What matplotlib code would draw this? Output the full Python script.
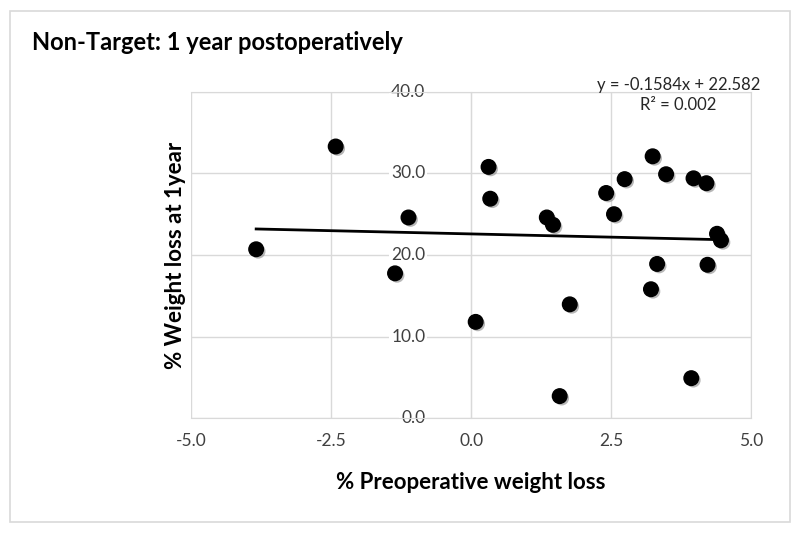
import numpy as np
import matplotlib
matplotlib.use("Agg")
import matplotlib.pyplot as plt
from matplotlib.patches import Rectangle
from matplotlib.transforms import offset_copy
import matplotlib.patheffects as pe

plt.rcParams["font.family"] = ["Lato", "DejaVu Sans"]

# % preoperative weight loss vs % weight loss at 1 year
preop_loss = [-3.84, -2.42, -1.12, -1.36, 0.08, 0.31, 0.34, 1.35, 1.46, 1.58,
              1.76, 2.41, 2.55, 2.74, 3.24, 3.21, 3.32, 3.48, 3.93, 3.97,
              4.20, 4.22, 4.39, 4.46]
loss_1yr = [20.7, 33.3, 24.6, 17.75, 11.8, 30.8, 26.9, 24.6, 23.7, 2.7,
            13.95, 27.6, 25.0, 29.3, 32.1, 15.8, 18.9, 29.9, 4.9, 29.4,
            28.8, 18.8, 22.6, 21.8]

slope = -0.1584
intercept = 22.582
r_squared = 0.002

x_ticks = [-5.0, -2.5, 0.0, 2.5, 5.0]
y_ticks = [0.0, 10.0, 20.0, 30.0, 40.0]


def main():
    fig = plt.figure(figsize=(8, 5.34), dpi=100)
    fig.patches.append(Rectangle((0.012, 0.022), 0.975, 0.958, transform=fig.transFigure,
                                 fill=False, edgecolor="#d9d9d9", linewidth=1.2))

    ax = fig.add_axes([0.239, 0.217, 0.7, 0.611])
    ax.set_xlim(-5, 5)
    ax.set_ylim(0, 40)

    grid_col = "#d9d9d9"
    for s in ax.spines.values():
        s.set_color(grid_col)
    ax.spines["left"].set_position(("data", 0))

    ax.set_xticks(x_ticks)
    ax.set_yticks(y_ticks)
    ax.set_xticklabels([f"{v:.1f}" for v in x_ticks])
    ax.set_yticklabels([])
    ax.tick_params(length=0, labelsize=12.5, colors="#404040")
    ax.tick_params(axis="x", pad=11)
    ax.grid(True, color=grid_col, linewidth=1)
    ax.set_axisbelow(True)

    # y tick labels sit left of the x=0 axis, on a white patch over the gridlines
    lab_tr = offset_copy(ax.transData, fig=fig, x=-33, y=0, units="points")
    for v in y_ticks:
        ax.text(0, v, f"{v:.1f}", transform=lab_tr, ha="right", va="center",
                fontsize=12.5, color="#404040", zorder=2, clip_on=False,
                bbox=dict(facecolor="white", edgecolor="none", pad=1.5))

    # trendline across the data range
    xs = np.array([min(preop_loss), max(preop_loss)])
    ax.plot(xs, slope * xs + intercept, color="black", linewidth=2, zorder=3)

    ax.scatter(preop_loss, loss_1yr, s=110, color="black", zorder=4,
               path_effects=[pe.SimplePatchShadow(offset=(1.5, -1.5), shadow_rgbFace="#888888", alpha=0.6),
                             pe.Normal()])

    ax.text(0.87, 1.02, f"y = {slope}x + {intercept}", transform=ax.transAxes,
            ha="center", va="center", fontsize=12, color="#262626")
    ax.text(0.87, 0.96, f"R\u00b2 = {r_squared:.3f}", transform=ax.transAxes,
            ha="center", va="center", fontsize=12, color="#262626")

    ax.set_xlabel("% Preoperative weight loss", fontsize=16, fontweight="bold", labelpad=16)
    ax.set_ylabel("% Weight loss at 1year", fontsize=16, fontweight="bold")
    ax.yaxis.set_label_coords(-0.01, 0.5)

    fig.text(0.04, 0.92, "Non-Target: 1 year postoperatively", fontsize=17,
             fontweight="bold", va="center")

    fig.savefig("out.png", dpi=100)
    plt.close(fig)


if __name__ == "__main__":
    main()
